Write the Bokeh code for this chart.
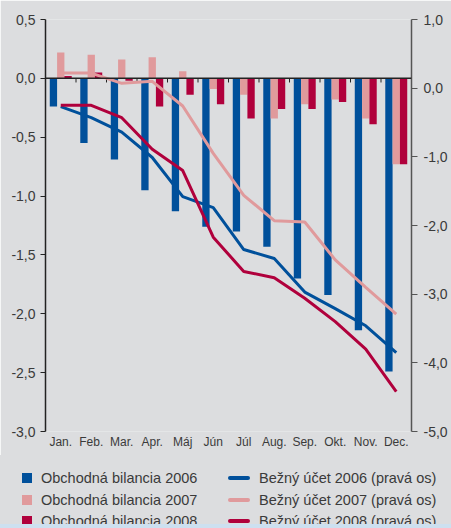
from bokeh.plotting import figure
from bokeh.layouts import column
from bokeh.models import (FactorRange, Range1d, LinearAxis, FixedTicker,
                          CustomJSTickFormatter, Span, Div)
from bokeh.transform import dodge
from bokeh.embed import file_html
from bokeh.resources import INLINE

months = ["Jan.", "Feb.", "Mar.", "Apr.", "Máj", "Jún", "Júl", "Aug.",
          "Sep.", "Okt.", "Nov.", "Dec."]

trade_2006 = [-0.24, -0.55, -0.69, -0.95, -1.13, -1.26, -1.30, -1.43, -1.70, -1.84, -2.14, -2.49]
trade_2007 = [0.22, 0.20, 0.16, 0.18, 0.06, -0.09, -0.14, -0.34, -0.22, -0.18, -0.34, -0.73]
trade_2008 = [0.02, 0.05, -0.02, -0.24, -0.14, -0.22, -0.34, -0.26, -0.26, -0.20, -0.39, -0.73]

current_2006 = [-0.27, -0.43, -0.64, -1.01, -1.58, -1.74, -2.35, -2.48, -2.97, -3.21, -3.46, -3.85]
current_2007 = [0.22, 0.22, 0.07, 0.10, -0.26, -0.95, -1.56, -1.93, -1.95, -2.50, -2.90, -3.29]
current_2008 = [-0.25, -0.25, -0.43, -0.89, -1.20, -2.17, -2.67, -2.76, -3.06, -3.40, -3.80, -4.42]

left_ticks = [-3.0, -2.5, -2.0, -1.5, -1.0, -0.5, 0.0, 0.5]
right_ticks = [-5.0, -4.0, -3.0, -2.0, -1.0, 0.0, 1.0]

bar_labels = ["Obchodná bilancia 2006", "Obchodná bilancia 2007", "Obchodná bilancia 2008"]
line_labels = ["Bežný účet 2006 (pravá os)", "Bežný účet 2007 (pravá os)", "Bežný účet 2008 (pravá os)"]

BLUE = "#00509b"
PINK = "#e09a9c"
RED = "#b0003c"
BG = "#dcdddf"
STRIP = "#cde0f0"
TXT = "#3a3a3a"
FONT = "'Liberation Sans', Arial, sans-serif"
NARROW = "'Liberation Sans Narrow', 'Arial Narrow', 'Liberation Sans', sans-serif"

W = 451
H_CHART = 455
H_LEG = 528 - H_CHART

p = figure(x_range=FactorRange(*months, range_padding=0),
           y_range=Range1d(-3.0, 0.5),
           width=W, height=H_CHART,
           min_border_left=45, min_border_right=40,
           min_border_top=19, min_border_bottom=24,
           output_backend="svg", toolbar_location=None,
           background_fill_color=BG, border_fill_color=BG)
p.outline_line_color = None
p.xgrid.grid_line_color = None
p.ygrid.grid_line_color = None
p.extra_y_ranges = {"right": Range1d(-5.0, 1.0)}

fmt = CustomJSTickFormatter(code="return tick.toFixed(1).replace('.', ',');")

# left axis
ya = p.yaxis[0]
ya.ticker = FixedTicker(ticks=left_ticks)
ya.formatter = fmt
ya.axis_line_color = "#222222"
ya.axis_line_width = 1.5
ya.major_tick_line_color = "#222222"
ya.major_tick_out = 5
ya.major_tick_in = 0
ya.minor_tick_line_color = None
ya.major_label_standoff = 5
ya.major_label_text_font = FONT
ya.major_label_text_font_size = "14px"
ya.major_label_text_color = TXT

# right axis
ra = LinearAxis(y_range_name="right", ticker=FixedTicker(ticks=right_ticks),
                formatter=fmt)
ra.axis_line_color = "#555555"
ra.axis_line_width = 1.5
ra.major_tick_line_color = "#555555"
ra.major_tick_out = 6
ra.major_tick_in = 0
ra.minor_tick_line_color = None
ra.major_label_standoff = 6
ra.major_label_text_font = FONT
ra.major_label_text_font_size = "14px"
ra.major_label_text_color = TXT
p.add_layout(ra, "right")

# bottom axis: labels only
xa = p.xaxis[0]
xa.axis_line_color = None
xa.major_tick_line_color = None
xa.minor_tick_line_color = None
xa.major_label_standoff = -3
xa.major_label_text_font = NARROW
xa.major_label_text_font_size = "12px"
xa.major_label_text_color = TXT

width = 0.24
p.vbar(x=dodge("m", -width, range=p.x_range), top="v", width=width,
       source=dict(m=months, v=trade_2006), color=BLUE, line_color=None)
p.vbar(x=dodge("m", 0.0, range=p.x_range), top="v", width=width,
       source=dict(m=months, v=trade_2007), color=PINK, line_color=None)
p.vbar(x=dodge("m", width, range=p.x_range), top="v", width=width,
       source=dict(m=months, v=trade_2008), color=RED, line_color=None)

# zero line with category separators
p.add_layout(Span(location=0, dimension="width", line_color="#222222", line_width=1.5))
sep = list(range(1, len(months)))
p.segment(x0=sep, y0=[0] * len(sep), x1=sep, y1=[-0.035] * len(sep),
          line_color="#222222", line_width=1)

p.line(months, current_2006, y_range_name="right", line_color=BLUE, line_width=3)
p.line(months, current_2007, y_range_name="right", line_color=PINK, line_width=3)
p.line(months, current_2008, y_range_name="right", line_color=RED, line_width=3)

# legend (HTML, beneath the chart)
colors = [BLUE, PINK, RED]
row_centers = [22.5, 45, 66]
parts = []
for i, (lab, col) in enumerate(zip(bar_labels, colors)):
    c = row_centers[i]
    parts.append(
        f'<div style="position:absolute;left:22px;top:{c-5}px;width:10px;height:10px;background:{col};"></div>'
        f'<div style="position:absolute;left:41px;top:{c-9}px;height:18px;line-height:18px;white-space:nowrap;">{lab}</div>')
for i, (lab, col) in enumerate(zip(line_labels, colors)):
    c = row_centers[i]
    parts.append(
        f'<div style="position:absolute;left:228px;top:{c-2}px;width:22px;height:4px;border-radius:2px;background:{col};"></div>'
        f'<div style="position:absolute;left:259px;top:{c-9}px;height:18px;line-height:18px;white-space:nowrap;">{lab}</div>')
parts.append(f'<div style="position:absolute;left:0px;top:{H_LEG-4}px;width:{W}px;height:4px;background:{STRIP};"></div>')

html = (f'<div style="position:relative;width:{W}px;height:{H_LEG}px;overflow:hidden;'
        f'background:{BG};font-family:{FONT};font-size:14.5px;color:{TXT};">'
        + "".join(parts) + '</div>')

legend_div = Div(text=html, width=W, height=H_LEG, margin=0,
                 styles={"background-color": BG})

layout = column(p, legend_div, spacing=0)
open("out.html", "w").write(file_html(layout, INLINE))
